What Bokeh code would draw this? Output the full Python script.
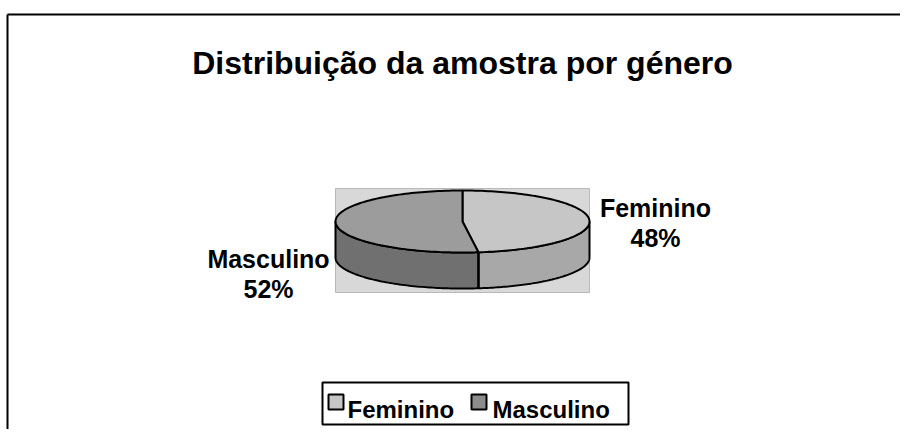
import numpy as np
from bokeh.plotting import figure
from bokeh.models import Range1d
from bokeh.core.properties import value
from bokeh.embed import file_html
from bokeh.resources import INLINE

# ---- data ----
categories = ["Feminino", "Masculino"]
percent = [48, 52]
pct_labels = ["48%", "52%"]
title_text = "Distribuição da amostra por género"

# ---- style ----
top_colors = ["#c6c6c6", "#9c9c9c"]
side_colors = ["#a8a8a8", "#707070"]
legend_colors = ["#c6c6c6", "#8c8c8c"]
FONT = value("Liberation Sans")

W, H = 900, 429
p = figure(width=W, height=H, output_backend="svg", toolbar_location=None,
           x_range=Range1d(0, W), y_range=Range1d(H, 0),
           min_border=0, outline_line_color=None)
p.axis.visible = False
p.grid.visible = False
p.background_fill_color = "white"
p.border_fill_color = "white"

# outer frame (top and left)
p.line([7, 900], [14, 14], line_color="black", line_width=2)
p.line([7, 7], [14, 429], line_color="black", line_width=2)

# title
p.text(x=[462], y=[62], text=[title_text], text_font=FONT, text_font_style="bold",
       text_font_size="32px", text_align="center", text_baseline="alphabetic",
       text_color="black")

# plot area
p.quad(left=[335], right=[589], top=[188], bottom=[292], fill_color="#d8d8d8",
       line_color="#b8b8b8", line_width=1)

# 3D pie geometry
cx, cy, rx, ry, depth = 462, 221, 127, 31, 36

def pt(theta_deg, dy=0.0):
    t = np.radians(theta_deg)
    return cx + rx * np.cos(t), cy - ry * np.sin(t) + dy

vals = np.array(percent, dtype=float)
fracs = vals / vals.sum()
starts = 90 - 360 * np.concatenate([[0], np.cumsum(fracs)[:-1]])
ends = starts - 360 * fracs

# sides (front half: angles where sin <= 0)
for i in range(len(categories)):
    lo, hi = ends[i], starts[i]
    for k in (-1, 0, 1):
        a = max(lo, -180 + 360 * k)
        b = min(hi, 0 + 360 * k)
        if b > a:
            th = np.linspace(a, b, 80)
            xt, yt = pt(th)
            xb, yb = pt(th[::-1], depth)
            xs = np.concatenate([xt, xb])
            ys = np.concatenate([yt, yb])
            p.patch(xs, ys, fill_color=side_colors[i], line_color="black", line_width=2)

# vertical divider edges on the side
for ang in list(starts):
    s = np.sin(np.radians(ang))
    if s < 0:
        x0, y0 = pt(ang)
        p.line([x0, x0], [y0, y0 + depth], line_color="black", line_width=2)

# tops
for i in range(len(categories)):
    th = np.linspace(starts[i], ends[i], 120)
    xa, ya = pt(th)
    xs = np.concatenate([[cx], xa])
    ys = np.concatenate([[cy], ya])
    p.patch(xs, ys, fill_color=top_colors[i], line_color="black", line_width=2)

# data labels
label_pos = [(655, 207, 237), (268, 258, 288)]
for i, (lx, ly1, ly2) in enumerate(label_pos):
    p.text(x=[lx], y=[ly1], text=[categories[i]], text_font=FONT, text_font_style="bold",
           text_font_size="25px", text_align="center", text_baseline="alphabetic",
           text_color="black")
    p.text(x=[lx], y=[ly2], text=[pct_labels[i]], text_font=FONT, text_font_style="bold",
           text_font_size="25px", text_align="center", text_baseline="alphabetic",
           text_color="black")

# legend
p.quad(left=[322], right=[628], top=[382], bottom=[424], fill_color="white",
       line_color="black", line_width=2)
leg_sq_x = [328, 471]
leg_txt_x = [347, 492]
for i in range(len(categories)):
    p.quad(left=[leg_sq_x[i]], right=[leg_sq_x[i] + 15], top=[394], bottom=[409],
           fill_color=legend_colors[i], line_color="black", line_width=2)
    p.text(x=[leg_txt_x[i]], y=[409], text=[categories[i]], text_font=FONT,
           text_font_style="bold", text_font_size="24px", text_align="left",
           text_baseline="alphabetic", text_color="black")

open("out.html", "w").write(file_html(p, INLINE))
